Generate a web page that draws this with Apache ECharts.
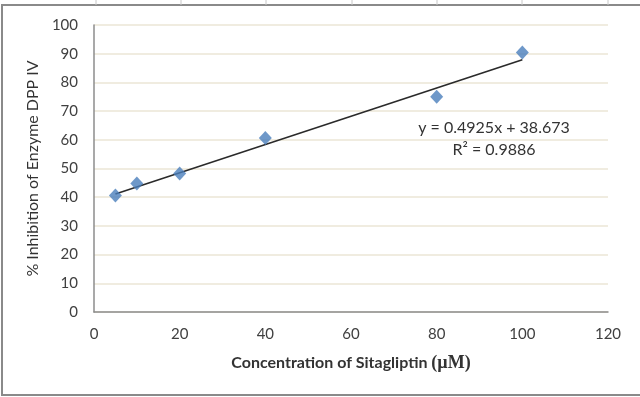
<!DOCTYPE html>
<html>
<head>
<meta charset="utf-8">
<script src="https://cdn.jsdelivr.net/npm/echarts@6/dist/echarts.min.js"></script>
<style>
  html, body { margin: 0; padding: 0; background: #fff; }
  #chart { width: 640px; height: 397px; }
</style>
</head>
<body>
<div id="chart"></div>
<script>
// data
const concentration = [5, 10, 20, 40, 80, 100]
const inhibition = [40.6, 44.8, 48.3, 60.6, 75.0, 90.4]
// trendline as printed on the chart
const slope = 0.4925
const intercept = 38.673
const rSquared = '0.9886'
const xTicks = { min: 0, max: 120, interval: 20 }
const yTicks = { min: 0, max: 100, interval: 10 }

const points = concentration.map((x, i) => [x, inhibition[i]])
const xFirst = concentration[0]
const xLast = concentration[concentration.length - 1]
const trend = [xFirst, xLast].map(x => [x, slope * x + intercept])

const FONT = 'Lato, "Open Sans", sans-serif'
const chart = echarts.init(document.getElementById('chart'))

// spreadsheet cell lines peeking above the chart frame
const cellLines = [96, 181, 266, 352, 437, 522, 608].map(x => ({
  type: 'line',
  shape: { x1: x, y1: 0, x2: x, y2: 5 },
  style: { stroke: '#c8c8c8', lineWidth: 1 }
}))

chart.setOption({
  animation: false,
  backgroundColor: '#fff',
  grid: { left: 94, right: 32, top: 25, bottom: 85 },
  xAxis: {
    type: 'value',
    ...xTicks,
    axisLine: { lineStyle: { color: '#8c8c8c', width: 1.5 } },
    axisTick: { show: false },
    splitLine: { show: false },
    axisLabel: { color: '#404040', fontSize: 15, fontFamily: FONT, margin: 15 },
    name: '{a|Concentration of Sitagliptin }{b|(µM)}',
    nameLocation: 'middle',
    nameGap: 42,
    nameTextStyle: {
      rich: {
        a: { fontFamily: FONT, fontSize: 16, fontWeight: 'bold', color: '#333' },
        b: { fontFamily: '"Liberation Serif", serif', fontSize: 18, fontWeight: 'bold', color: '#333' }
      }
    }
  },
  yAxis: {
    type: 'value',
    ...yTicks,
    axisLine: { show: true, lineStyle: { color: '#8c8c8c', width: 1.5 } },
    axisTick: { show: false },
    splitLine: { lineStyle: { color: '#ebe6d6', width: 1.5 } },
    axisLabel: { color: '#404040', fontSize: 15, fontFamily: FONT, margin: 16 },
    name: '% Inhibition of Enzyme DPP IV',
    nameLocation: 'middle',
    nameGap: 51,
    nameTextStyle: { fontFamily: FONT, fontSize: 16, color: '#333' }
  },
  series: [
    {
      type: 'line',
      data: trend,
      showSymbol: false,
      lineStyle: { color: '#2a2a2a', width: 1.6 },
      z: 2
    },
    {
      type: 'scatter',
      data: points,
      symbol: 'diamond',
      symbolSize: [13, 14],
      itemStyle: { color: '#4a7ebb' },
      z: 3
    }
  ],
  graphic: [
    {
      type: 'rect',
      shape: { x: 2, y: 5, width: 700, height: 390 },
      style: { fill: 'none', stroke: '#8a8a8a', lineWidth: 2 },
      silent: true
    },
    ...cellLines,
    {
      type: 'text',
      x: 494, y: 128,
      style: {
        text: 'y = ' + slope + 'x + ' + intercept,
        fontFamily: FONT, fontSize: 16, fill: '#333',
        textAlign: 'center', textVerticalAlign: 'middle'
      }
    },
    {
      type: 'text',
      x: 494, y: 150,
      style: {
        text: 'R² = ' + rSquared,
        fontFamily: FONT, fontSize: 16, fill: '#333',
        textAlign: 'center', textVerticalAlign: 'middle'
      }
    }
  ]
})
</script>
</body>
</html>
